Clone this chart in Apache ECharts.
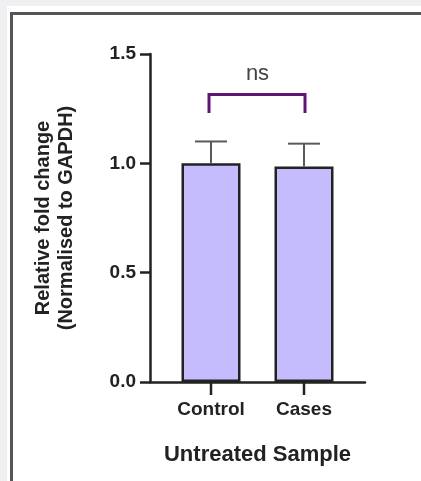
<!DOCTYPE html>
<html>
<head>
<meta charset="utf-8">
<script src="https://cdn.jsdelivr.net/npm/echarts@6/dist/echarts.min.js"></script>
<style>
  html, body { margin: 0; padding: 0; background: #eef0f2; overflow: hidden; }
  #sheet { position: absolute; left: 7px; top: 6px; width: 600px; height: 600px; background: #fff; }
  #frame { position: absolute; left: 10px; top: 12px; width: 600px; height: 600px;
           border-left: 3px solid #555; border-top: 3px solid #555; }
  #main { position: absolute; left: 0; top: 0; width: 421px; height: 481px; }
</style>
</head>
<body>
<div id="sheet"></div>
<div id="frame"></div>
<div id="main"></div>
<script>
// data
const categories = ['Control', 'Cases'];
const foldChange = [1.0, 0.985];
const foldSem = [0.10, 0.105];
const yTicks = [0, 0.5, 1.0, 1.5];
const sigLabel = 'ns';
const sigLevel = 1.315;     // bracket height
const sigDrop = 0.085;      // leg length

const FONT = '"Liberation Sans", Arial, sans-serif';
const ink = '#222';

const chart = echarts.init(document.getElementById('main'));

const option = {
    backgroundColor: 'transparent',
    animation: false,
    grid: [
        // frame with the long x axis line and the y axis
        { left: 150, right: 56, top: 54, bottom: 99 },
        // narrower band where the bars sit
        { left: 164.5, width: 186, top: 54, bottom: 99 }
    ],
    xAxis: [
        {
            gridIndex: 0,
            type: 'category',
            data: categories,
            axisLine: { lineStyle: { color: ink, width: 2.5 } },
            axisTick: { show: false },
            axisLabel: { show: false },
            name: 'Untreated Sample',
            nameLocation: 'middle',
            nameGap: 62,
            nameTextStyle: { fontFamily: FONT, fontWeight: 'bold', fontSize: 22, color: ink }
        },
        {
            gridIndex: 1,
            type: 'category',
            data: categories,
            axisLine: { show: false },
            axisTick: { show: false },
            axisLabel: { margin: 18, fontFamily: FONT, fontWeight: 'bold', fontSize: 19, color: ink }
        }
    ],
    yAxis: [
        {
            gridIndex: 0,
            type: 'value',
            min: yTicks[0],
            max: yTicks[yTicks.length - 1],
            interval: yTicks[1] - yTicks[0],
            axisLine: { show: true, lineStyle: { color: ink, width: 2.5 } },
            axisTick: { show: true, length: 10, lineStyle: { color: ink, width: 2.5 } },
            splitLine: { show: false },
            axisLabel: {
                margin: 14,
                fontFamily: FONT, fontWeight: 'bold', fontSize: 19, color: ink,
                formatter: function (v) { return v.toFixed(1); }
            },
            name: 'Relative fold change\n(Normalised to GAPDH)',
            nameLocation: 'middle',
            nameGap: 72,
            nameTextStyle: { fontFamily: FONT, fontWeight: 'bold', fontSize: 20, lineHeight: 23, color: ink, align: 'center' }
        },
        {
            gridIndex: 1,
            type: 'value',
            min: yTicks[0],
            max: yTicks[yTicks.length - 1],
            axisLine: { show: false },
            axisTick: { show: false },
            axisLabel: { show: false },
            splitLine: { show: false }
        }
    ],
    series: [
        {
            type: 'bar',
            xAxisIndex: 1,
            yAxisIndex: 1,
            data: foldChange,
            barWidth: 59,
            itemStyle: { color: '#c4bcfd', borderColor: ink, borderWidth: 2.5 },
            z: 2
        },
        {
            // upper error bars + the category tick under each bar
            type: 'custom',
            xAxisIndex: 1,
            yAxisIndex: 1,
            data: categories.map(function (c, i) { return [i, foldChange[i], foldChange[i] + foldSem[i]]; }),
            renderItem: function (params, api) {
                const base = api.coord([api.value(0), api.value(1)]);
                const top = api.coord([api.value(0), api.value(2)]);
                const zero = api.coord([api.value(0), yTicks[0]]);
                const style = { stroke: '#5a5a5a', lineWidth: 2 };
                return {
                    type: 'group',
                    children: [
                        { type: 'line', shape: { x1: top[0], y1: base[1], x2: top[0], y2: top[1] }, style: style },
                        { type: 'line', shape: { x1: top[0] - 16, y1: top[1], x2: top[0] + 16, y2: top[1] }, style: style },
                        { type: 'rect', shape: { x: zero[0] - 1.25, y: zero[1], width: 2.5, height: 13 }, style: { fill: ink } }
                    ]
                };
            },
            clip: false,
            z: 3
        },
        {
            // significance bracket
            type: 'custom',
            xAxisIndex: 1,
            yAxisIndex: 1,
            data: [[0, 1, sigLevel, sigLevel - sigDrop]],
            renderItem: function (params, api) {
                const a = api.coord([api.value(0), api.value(2)]);
                const b = api.coord([api.value(1), api.value(2)]);
                const foot = api.coord([api.value(0), api.value(3)]);
                return {
                    type: 'group',
                    children: [
                        {
                            type: 'polyline',
                            shape: { points: [[a[0] - 2, foot[1]], [a[0] - 2, a[1]], [b[0] + 1, b[1]], [b[0] + 1, foot[1]]] },
                            style: { stroke: '#5e1677', lineWidth: 3, fill: null }
                        },
                        {
                            type: 'text',
                            x: (a[0] + b[0]) / 2,
                            y: a[1] - 10,
                            style: {
                                text: sigLabel,
                                fontFamily: FONT, fontSize: 22, fill: '#444',
                                align: 'center', verticalAlign: 'bottom'
                            }
                        }
                    ]
                };
            },
            z: 3
        }
    ]
};

chart.setOption(option);
</script>
</body>
</html>
